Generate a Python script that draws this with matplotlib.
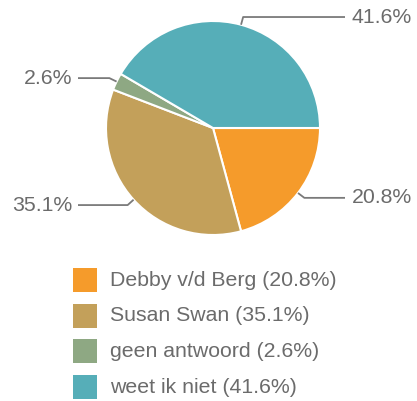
import matplotlib.pyplot as plt
import numpy as np
from matplotlib.patches import Rectangle

labels = ['Debby v/d Berg', 'Susan Swan', 'geen antwoord', 'weet ik niet']
values = [20.8, 35.1, 2.6, 41.6]
colors = ['#F59B2B', '#C3A05A', '#8EA883', '#56AEB8']

plt.rcParams['font.family'] = ['Liberation Sans', 'DejaVu Sans']
txt_color = '#6b6b6b'
line_color = '#7a7a7a'

W, H = 417, 401
fig = plt.figure(figsize=(W / 100, H / 100), dpi=100)
ax = fig.add_axes([0, 0, 1, 1])
ax.set_xlim(0, W)
ax.set_ylim(0, H)
ax.set_aspect('equal')
ax.axis('off')

# pie (pixel coords, y up)
cx, cy, r = 213, H - 128, 107
wedges, _ = ax.pie(values, colors=colors, startangle=0, counterclock=False,
                   center=(cx, cy), radius=r,
                   wedgeprops=dict(edgecolor='white', linewidth=1.5))
ax.set_xlim(0, W)
ax.set_ylim(0, H)

# leader lines + percent labels
for w, v in zip(wedges, values):
    mid = np.deg2rad((w.theta1 + w.theta2) / 2)
    x0, y0 = cx + r * np.cos(mid), cy + r * np.sin(mid)
    x1, y1 = cx + (r + 8) * np.cos(mid), cy + (r + 8) * np.sin(mid)
    if np.cos(mid) >= 0:
        x2, tx, ha = 345, 352, 'left'
    else:
        x2, tx, ha = 78, 72, 'right'
    ax.plot([x0, x1, x2], [y0, y1, y1], color=line_color, lw=1.3,
            solid_capstyle='butt')
    ax.text(tx, y1, f'{v}%', ha=ha, va='center', fontsize=15.3, color=txt_color)

# legend
for i, (lab, v, c) in enumerate(zip(labels, values, colors)):
    yc = H - (280 + i * 35.7)
    ax.add_patch(Rectangle((73, yc - 12), 24, 24, facecolor=c, edgecolor='none'))
    ax.text(110, yc, f'{lab} ({v}%)', ha='left', va='center', fontsize=15.3,
            color=txt_color)

fig.savefig('out.png', dpi=100)
